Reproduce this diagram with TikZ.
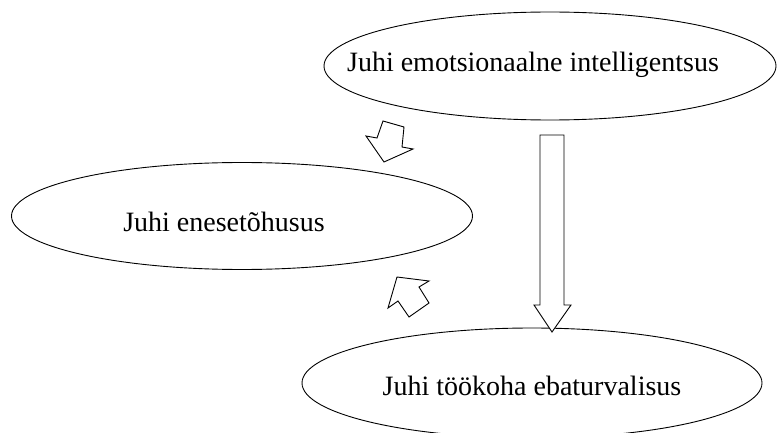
\documentclass[tikz,border=0pt]{standalone}
\usepackage{fontspec}
\setmainfont{Liberation Serif}
\usetikzlibrary{shapes.geometric}
\begin{document}
\begin{tikzpicture}[x=1pt,y=-1pt,
  ell/.style={draw, ellipse, line width=0.9pt, inner sep=0pt},
  lbl/.style={anchor=base, inner sep=0pt, font=\fontsize{28}{32}\selectfont},
  blockarrow/.style={draw, line width=0.9pt, fill=white, line join=miter}]
\useasboundingbox (0,0) rectangle (777,433);
\clip (0,0) rectangle (777,433);
% ellipses
\node[ell, minimum width=452pt, minimum height=108pt] (emo) at (550,66) {};
\node[ell, minimum width=461pt, minimum height=107pt] (ene) at (242,216) {};
\node[ell, minimum width=460pt, minimum height=110pt] (too) at (532,383) {};
% labels
\node[lbl] (emot) at (533,72) {Juhi emotsionaalne intelligentsus};
\node[lbl] (enet) at (224,232) {Juhi enesetõhusus};
\node[lbl] (toot) at (532,395) {Juhi töökoha ebaturvalisus};
% vertical block arrow
\draw[blockarrow] (540,135) -- (564,135) -- (564,305) -- (571,305) -- (552,332)
  -- (534,305) -- (540,305) -- cycle;
% block arrow towards enesetõhusus (from top)
\draw[blockarrow] (383,121) -- (404,127) -- (402,147) -- (413,149) -- (384,162)
  -- (366,136) -- (377,138) -- cycle;
% block arrow towards enesetõhusus (from bottom)
\draw[blockarrow] (397,277) -- (429,281) -- (419,287) -- (429,303) -- (409,317)
  -- (398,301) -- (388,308) -- cycle;
\end{tikzpicture}
\end{document}
